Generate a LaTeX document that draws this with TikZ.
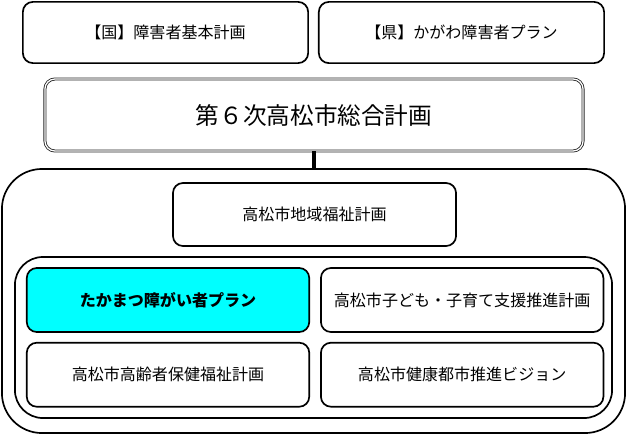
\documentclass[tikz,border=0pt]{standalone}
\usepackage{fontspec}
\newfontfamily\jpfont{Noto Sans CJK JP}
\usetikzlibrary{positioning}
\definecolor{planaqua}{RGB}{0,255,255}
\tikzset{
  box/.style={rectangle,draw,rounded corners=2.5mm,line width=1.2pt,align=center,inner sep=0pt,
    font=\jpfont\fontsize{11.4}{14}\selectfont,minimum width=70.6mm,minimum height=16mm},
  mainbox/.style={box,double,double distance=0.9pt,line width=0.6pt,draw=black!85,
    font=\jpfont\fontsize{16.8}{20}\selectfont,minimum width=134.5mm,minimum height=18mm},
  panel/.style={rectangle,draw,line width=1.2pt,inner sep=0pt},
  highlight/.style={box,fill=planaqua,font=\jpfont\bfseries\fontsize{11.4}{14}\selectfont},
  line/.style={line width=2.6pt}
}
\begin{document}
\begin{tikzpicture}[x=0.025cm,y=-0.025cm]
\useasboundingbox (0,0) rectangle (630,436);
% upper plans
\node[box, minimum width=71.3mm, minimum height=15.3mm] (kuni) at (165.5,32.5) {【国】障害者基本計画};
\node[box, minimum width=71.3mm, minimum height=15.3mm, right=2.25mm of kuni] (ken) {【県】かがわ障害者プラン};
\node[mainbox] (sogo) at (314,115) {第６次高松市総合計画};
% city plans
\node[panel, rounded corners=10mm, minimum width=155.75mm, minimum height=66mm] (outer) at (313.5,301) {};
\node[panel, rounded corners=7mm, minimum width=149.25mm, minimum height=40.25mm] (inner) at (313.5,337.5) {};
\node[box, minimum width=70.75mm, minimum height=15.75mm] (chiiki) at (314.5,214.5) {高松市地域福祉計画};
\node[highlight] (takamatsu) at (168,300) {たかまつ障がい者プラン};
\node[box, right=2.5mm of takamatsu] (kodomo) {高松市子ども・子育て支援推進計画};
\node[box, below=2.25mm of takamatsu] (korei) {高松市高齢者保健福祉計画};
\node[box, right=2.5mm of korei] (kenko) {高松市健康都市推進ビジョン};
\draw[line] (sogo.south) -- (sogo.south |- outer.north);
\end{tikzpicture}
\end{document}
